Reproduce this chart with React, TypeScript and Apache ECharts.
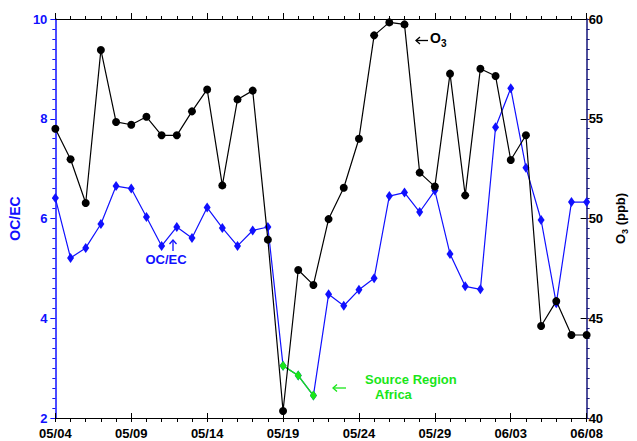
import React, { useEffect, useRef } from "react";
import * as echarts from "echarts";

const dates = [
  "05/04", "05/05", "05/06", "05/07", "05/08", "05/09", "05/10", "05/11", "05/12",
  "05/13", "05/14", "05/15", "05/16", "05/17", "05/18", "05/19", "05/20", "05/21",
  "05/22", "05/23", "05/24", "05/25", "05/26", "05/27", "05/28", "05/29", "05/30",
  "05/31", "06/01", "06/02", "06/03", "06/04", "06/05", "06/06", "06/07", "06/08",
];

const ocec = [
  6.41, 5.21, 5.41, 5.89, 6.65, 6.6, 6.03, 5.45, 5.83, 5.61, 6.22, 5.81, 5.45, 5.76,
  5.83, 3.05, 2.85, 2.45, 4.48, 4.25, 4.57, 4.8, 6.45, 6.52, 6.13, 6.56, 5.29, 4.64,
  4.58, 7.83, 8.61, 7.02, 5.97, 4.3, 6.33, 6.33,
];

const o3 = [
  54.5, 52.97, 50.78, 58.45, 54.84, 54.7, 55.1, 54.17, 54.17, 55.37, 56.47, 51.66,
  55.97, 56.41, 48.94, 40.35, 47.42, 46.67, 49.97, 51.54, 54.0, 59.18, 59.83, 59.73,
  52.3, 51.6, 57.26, 51.16, 57.51, 57.14, 52.93, 54.17, 44.61, 45.86, 44.16, 44.16,
];

// indices of the OC/EC points attributed to the African source region
const africaIdx = [15, 16, 17];

const leftTicks = [2, 4, 6, 8, 10];
const rightTicks = [40, 45, 50, 55, 60];

const FONT = "'Liberation Sans', Arial, sans-serif";
const BLUE = "#1010ff";
const NAVY = "#14147a";
const GREEN = "#19e619";

export default function App() {
  const ref = useRef<HTMLDivElement>(null);

  useEffect(() => {
    if (!ref.current) return;
    const chart = echarts.init(ref.current, undefined, { renderer: "svg" });

    const xCommon = {
      type: "value" as const,
      min: 0,
      max: dates.length - 1,
      interval: 5,
      splitLine: { show: false },
    };

    const option: any = {
      animation: false,
      backgroundColor: "#ffffff",
      grid: { left: 52, right: 38, top: 19, bottom: 23 },
      xAxis: [
        {
          ...xCommon,
          position: "bottom",
          axisLine: { onZero: false, lineStyle: { color: "#000", width: 1.2 } },
          axisTick: { inside: false, length: 4, lineStyle: { color: "#000" } },
          minorTick: { show: true, splitNumber: 5, length: 4, lineStyle: { color: "#000" } },
          axisLabel: {
            margin: 9,
            color: "#000",
            fontFamily: FONT,
            fontWeight: "bold",
            fontSize: 13,
            formatter: (v: number) => dates[Math.round(v)] ?? "",
          },
        },
        {
          ...xCommon,
          position: "top",
          axisLine: { onZero: false, lineStyle: { color: "#000", width: 1.2 } },
          axisTick: { inside: false, length: 6, lineStyle: { color: "#000" } },
          minorTick: { show: true, splitNumber: 5, length: 3, lineStyle: { color: "#000" } },
          axisLabel: { show: false },
        },
        {
          ...xCommon,
          position: "bottom",
          axisLine: { show: false, onZero: false },
          axisTick: { inside: true, length: 5, lineStyle: { color: "#000" } },
          minorTick: { show: false },
          axisLabel: { show: false },
        },
      ],
      yAxis: [
        {
          type: "value",
          position: "left",
          min: leftTicks[0],
          max: leftTicks[leftTicks.length - 1],
          interval: 2,
          splitLine: { show: false },
          axisLine: { show: true, onZero: false, lineStyle: { color: BLUE, width: 1.5 } },
          axisTick: { inside: false, length: 5, lineStyle: { color: BLUE } },
          minorTick: { show: true, splitNumber: 10, length: 3, lineStyle: { color: BLUE } },
          axisLabel: {
            margin: 8,
            color: BLUE,
            fontFamily: FONT,
            fontWeight: "bold",
            fontSize: 13,
          },
          name: "OC/EC",
          nameLocation: "middle",
          nameGap: 29,
          nameTextStyle: { color: BLUE, fontFamily: FONT, fontWeight: "bold", fontSize: 14 },
        },
        {
          type: "value",
          position: "right",
          min: rightTicks[0],
          max: rightTicks[rightTicks.length - 1],
          interval: 5,
          splitLine: { show: false },
          axisLine: { show: true, onZero: false, lineStyle: { color: NAVY, width: 1.5 } },
          axisTick: { inside: true, length: 6, lineStyle: { color: "#000" } },
          minorTick: { show: false },
          axisLabel: {
            margin: 2,
            color: "#000",
            fontFamily: FONT,
            fontWeight: "bold",
            fontSize: 13,
          },
          name: "O{s|3} (ppb)",
          nameLocation: "middle",
          nameRotate: 90,
          nameGap: 25,
          nameTextStyle: {
            color: "#000",
            fontFamily: FONT,
            fontWeight: "bold",
            fontSize: 13,
            rich: {
              s: { fontFamily: FONT, fontWeight: "bold", fontSize: 9, verticalAlign: "bottom", padding: [8, 0, 0, 0] },
            },
          },
        },
        {
          type: "value",
          position: "right",
          min: rightTicks[0],
          max: rightTicks[rightTicks.length - 1],
          interval: 5,
          splitLine: { show: false },
          axisLine: { show: false, onZero: false },
          axisTick: { inside: false, length: 3, lineStyle: { color: NAVY } },
          minorTick: { show: true, splitNumber: 10, length: 3, lineStyle: { color: NAVY } },
          axisLabel: { show: false },
        },
      ],
      series: [
        {
          name: "OC/EC",
          type: "line",
          xAxisIndex: 0,
          yAxisIndex: 0,
          data: ocec.map((v, i) => [i, v]),
          symbol: "diamond",
          symbolSize: [7, 10],
          lineStyle: { color: BLUE, width: 1.2 },
          itemStyle: { color: BLUE },
          z: 3,
        },
        {
          name: "Source Region Africa",
          type: "line",
          xAxisIndex: 0,
          yAxisIndex: 0,
          data: africaIdx.map((i) => [i, ocec[i]]),
          symbol: "diamond",
          symbolSize: [7, 10],
          lineStyle: { color: GREEN, width: 1.4 },
          itemStyle: { color: GREEN },
          z: 4,
        },
        {
          name: "O3",
          type: "line",
          xAxisIndex: 0,
          yAxisIndex: 1,
          data: o3.map((v, i) => [i, v]),
          symbol: "circle",
          symbolSize: 8,
          lineStyle: { color: "#000", width: 1.2 },
          itemStyle: { color: "#000" },
          z: 5,
        },
      ],
      graphic: [
        // O3 label
        { type: "line", shape: { x1: 416, y1: 40.5, x2: 428, y2: 40.5 }, style: { stroke: "#000", lineWidth: 1.3 } },
        { type: "polyline", shape: { points: [[420, 37], [416, 40.5], [420, 44]] }, style: { stroke: "#000", lineWidth: 1.3, fill: null } },
        {
          type: "text",
          x: 430,
          y: 38,
          style: {
            text: "O{s|3}",
            fill: "#000",
            font: `bold 14px ${FONT}`,
            verticalAlign: "middle",
            rich: { s: { font: `bold 10px ${FONT}`, fill: "#000", padding: [10, 0, 0, 0] } },
          },
        },
        // OC/EC label
        { type: "line", shape: { x1: 173, y1: 240, x2: 173, y2: 251 }, style: { stroke: BLUE, lineWidth: 1.3 } },
        { type: "polyline", shape: { points: [[169.5, 244], [173, 240], [176.5, 244]] }, style: { stroke: BLUE, lineWidth: 1.3, fill: null } },
        {
          type: "text",
          x: 166,
          y: 259,
          style: { text: "OC/EC", fill: BLUE, font: `bold 13px ${FONT}`, align: "center", verticalAlign: "middle" },
        },
        // Source region label
        { type: "line", shape: { x1: 333, y1: 388, x2: 346, y2: 388 }, style: { stroke: GREEN, lineWidth: 1.3 } },
        { type: "polyline", shape: { points: [[337, 384.5], [333, 388], [337, 391.5]] }, style: { stroke: GREEN, lineWidth: 1.3, fill: null } },
        {
          type: "text",
          x: 365,
          y: 379,
          style: { text: "Source Region", fill: GREEN, font: `bold 13px ${FONT}`, verticalAlign: "middle" },
        },
        {
          type: "text",
          x: 375,
          y: 394,
          style: { text: "Africa", fill: GREEN, font: `bold 13px ${FONT}`, verticalAlign: "middle" },
        },
      ],
    };

    chart.setOption(option);
    return () => chart.dispose();
  }, []);

  return (
    <div
      ref={ref}
      style={{ position: "fixed", left: 0, top: 0, width: 637, height: 441, background: "#fff" }}
    />
  );
}
